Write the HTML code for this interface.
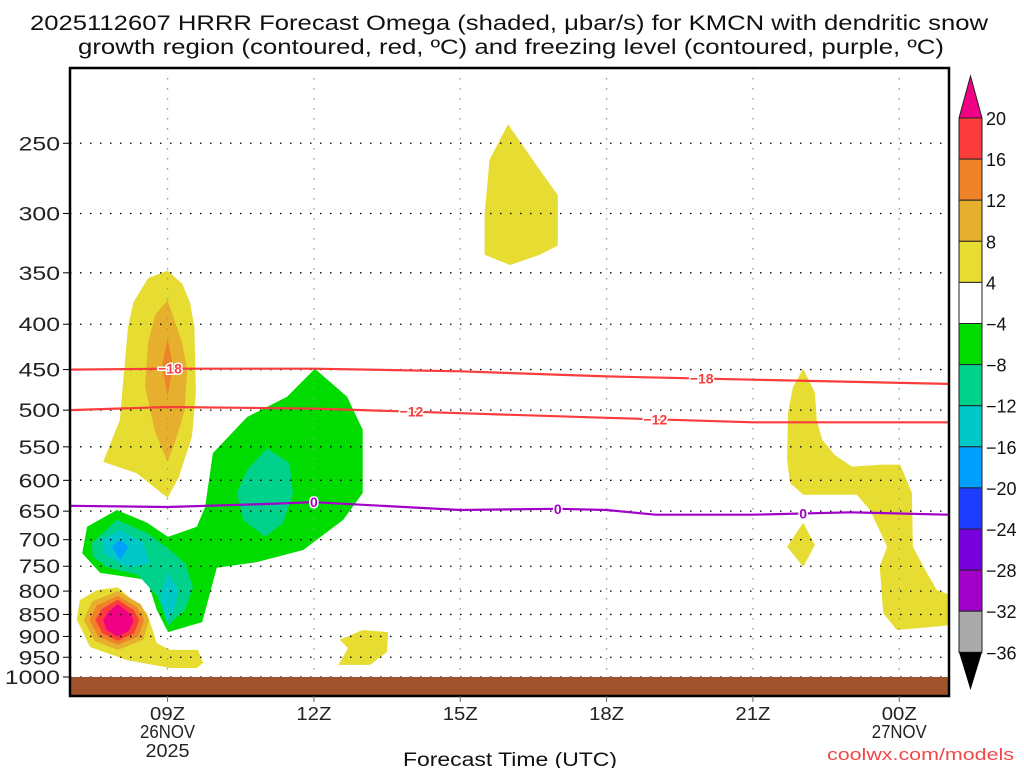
<!DOCTYPE html>
<html><head><meta charset="utf-8"><style>
html,body{margin:0;padding:0;background:#fff;}
svg{display:block;font-family:"Liberation Sans","DejaVu Sans",sans-serif;}
</style></head><body>
<svg id="chart" width="1024" height="768" viewBox="0 0 1024 768">
<text x="30" y="30" font-size="21" textLength="958" lengthAdjust="spacingAndGlyphs" fill="#111">2025112607 HRRR Forecast Omega (shaded, μbar/s) for KMCN with dendritic snow</text>
<text x="78" y="54" font-size="21" textLength="866" lengthAdjust="spacingAndGlyphs" fill="#111">growth region (contoured, red, ºC) and freezing level (contoured, purple, ºC)</text>
<g id="shade"></g>
<g id="grid"></g>
<g id="lines"></g>
<rect x="70" y="677" width="879" height="19" fill="#a0522d"/>
<rect x="70" y="68" width="879" height="628" fill="none" stroke="#000" stroke-width="2.5"/>
<g id="axes"></g>
<g id="cbar"></g>
<text x="403" y="766" font-size="19" textLength="214" lengthAdjust="spacingAndGlyphs" fill="#111">Forecast Time (UTC)</text>
<text x="827" y="760" font-size="17" textLength="187" lengthAdjust="spacingAndGlyphs" fill="#f04848">coolwx.com/models</text>
</svg>
<script>
const NS="http://www.w3.org/2000/svg";
const pTicks=[250,300,350,400,450,500,550,600,650,700,750,800,850,900,950,1000];
const hTicks=[9,12,15,18,21,24];
const hLabels=["09Z","12Z","15Z","18Z","21Z","00Z"];
const hSub=[["26NOV","2025"],[],[],[],[],["27NOV"]];
const cbLevels=["20","16","12","8","4","-4","-8","-12","-16","-20","-24","-28","-32","-36"];
const cbColors=["#fa3c3c","#f08228","#e6af2d","#e6dc32","#ffffff","#00dc00","#00d28c","#00c8c8","#00a0ff","#1e3cff","#7800dc","#a000c8","#aaaaaa"];
const lineHours=[7,9,12,15,18,21,25];
const t18=[450,449,449,452,458,462,467];
const t12=[500,496,498,504,510,516,516];
const fzHours=[7,9,11,12,15,17,18,19,21,23,25];
const fz=[641,643,638,635,648,646,648,656,656,652,656];
const labels18=[[9.05,-18],[19.95,-18]];
const labels12=[[14.0,-12],[19.0,-12]];
const labelsFz=[[12.0,0],[17.0,0],[22.03,0]];
const yellowUpper=[[9.0,348],[9.3,360],[9.46,378],[9.55,403],[9.58,478],[9.5,536],[9.23,595],[9.0,628],[8.37,589],[7.68,572],[8.02,513],[8.19,403],[8.3,378],[8.6,355]];
const goldUpper=[[9.0,376],[9.3,420],[9.4,450],[9.35,500],[9.19,536],[9.0,572],[8.75,530],[8.54,471],[8.6,420],[8.75,390]];
const orangeUpper=[[9.0,415],[9.11,445],[9.0,483],[8.89,445]];
const yellowLow=[[7.98,792],[8.58,847],[8.78,916],[9.05,932],[9.62,932],[9.73,964],[9.6,977],[9.05,977],[8.17,957],[7.41,925],[7.14,862],[7.2,819],[7.55,798]];
const goldLow=[[7.98,800],[8.45,828],[8.62,862],[8.5,908],[7.98,932],[7.5,910],[7.28,862],[7.45,822]];
const orangeLow=[[7.98,810],[8.38,835],[8.52,862],[8.4,900],[7.98,920],[7.58,900],[7.4,862],[7.55,830]];
const redLow=[[7.98,818],[8.3,840],[8.42,862],[8.32,892],[7.98,910],[7.66,892],[7.52,862],[7.65,838]];
const magLow=[[7.98,828],[8.25,850],[8.3,865],[8.2,888],[7.98,900],[7.75,885],[7.68,862],[7.78,845]];
const greenMain=[[12.02,449],[12.68,483],[13.0,526],[13.0,620],[12.6,665],[11.78,719],[10.83,742],[10.01,753],[9.87,804],[9.71,867],[9.01,890],[8.78,840],[8.58,777],[7.62,763],[7.25,725],[7.35,677],[7.96,648],[8.58,670],[9.01,695],[9.6,677],[9.77,643],[9.93,559],[10.63,509],[11.45,483]];
const tealMid=[[11.04,552],[11.5,574],[11.57,620],[11.37,670],[11.0,695],[10.55,665],[10.42,620],[10.63,584]];
const tealLow=[[7.45,706],[7.96,665],[8.58,688],[9.05,719],[9.36,744],[9.52,792],[9.36,840],[9.01,874],[8.8,812],[8.39,767],[7.76,752],[7.47,732]];
const cyanA=[[7.66,700],[8.03,683],[8.5,706],[8.64,744],[8.17,752],[7.68,725]];
const cyanB=[[8.99,763],[9.21,794],[9.15,834],[9.0,867],[8.85,812]];
const blueA=[[8.03,700],[8.2,713],[8.03,738],[7.86,713]];
const yellow13=[[12.53,908],[13.0,885],[13.52,890],[13.5,937],[13.15,969],[12.5,969],[12.7,928]];
const yellow16=[[15.98,238],[16.63,268],[17.0,286],[17.0,326],[16.63,334],[16.02,343],[15.5,334],[15.5,301],[15.6,261]];
const yellowRight=[[22.03,449],[22.27,478],[22.31,513],[22.42,540],[22.68,562],[23.03,579],[23.65,576],[24.02,576],[24.26,620],[24.28,713],[24.49,750],[24.77,798],[25.04,808],[25.04,874],[24.69,878],[23.95,885],[23.67,847],[23.6,750],[23.75,713],[23.4,648],[23.13,623],[22.03,623],[21.76,604],[21.7,569],[21.72,504],[21.82,471]];
const yellowSmall=[[22.03,670],[22.27,710],[22.03,751],[21.7,713]];
const regions=[
 ["#e6dc32",yellowUpper,"yellow-upward-region-9z"],["#e6af2d",goldUpper,"gold-region-9z"],["#f08228",orangeUpper,"orange-region-9z"],
 ["#e6dc32",yellowLow,"yellow-low-region-8z"],["#e6af2d",goldLow,"gold-low-region"],["#f08228",orangeLow,"orange-low-region"],["#fa3c3c",redLow,"red-low-region"],["#f00082",magLow,"magenta-max-region"],
 ["#00dc00",greenMain,"green-downward-region"],["#00d28c",tealMid,"teal-region-11z"],["#00d28c",tealLow,"teal-region-8z"],["#00c8c8",cyanA,"cyan-region-a"],["#00c8c8",cyanB,"cyan-region-b"],["#00a0ff",blueA,"lightblue-region"],
 ["#e6dc32",yellow13,"yellow-region-13z"],["#e6dc32",yellow16,"yellow-region-16z"],["#e6dc32",yellowRight,"yellow-region-23z"],["#e6dc32",yellowSmall,"yellow-small-region-22z"]
];
const X0=70,PXH=48.78,H0=7;
function xs(h){return X0+(h-H0)*PXH;}
function ys(p){return 677+385*Math.log(p/1000);}
function mk(tag,attrs,parent){const e=document.createElementNS(NS,tag);for(const k in attrs)e.setAttribute(k,attrs[k]);parent.appendChild(e);return e;}
const shade=document.getElementById('shade'),grid=document.getElementById('grid'),lines=document.getElementById('lines'),axes=document.getElementById('axes'),cbar=document.getElementById('cbar');
const clipDef=mk('defs',{},document.getElementById('chart'));
const cp=mk('clipPath',{id:'pc'},clipDef);mk('rect',{x:70,y:68,width:879,height:628},cp);
shade.setAttribute('clip-path','url(#pc)');
regions.forEach(r=>{
 const el=mk('polygon',{points:r[1].map(q=>xs(q[0]).toFixed(1)+','+ys(q[1]).toFixed(1)).join(' '),fill:r[0]},shade);
 
 
});
pTicks.forEach(p=>{
 const y=ys(p);
 const l=mk('line',{x1:70,x2:949,y1:y,y2:y,stroke:'#000','stroke-width':1.3,'stroke-dasharray':'1.5 8.5'},grid);
 
 
 const t=mk('line',{x1:63,x2:70,y1:y,y2:y,stroke:'#000','stroke-width':1},axes);
 
 
 const s=String(p);const w=s.length*13.8;
 const tx=mk('text',{x:60-w,y:y+7,'font-size':19,textLength:w,lengthAdjust:'spacingAndGlyphs',fill:'#222'},axes);tx.textContent=s;
 
 
});
hTicks.forEach((h,i)=>{
 const x=xs(h);
 const l=mk('line',{x1:x,x2:x,y1:68,y2:696,stroke:'#999','stroke-width':1.3,'stroke-dasharray':'1.5 8.5'},grid);
 
 
 const t=mk('line',{x1:x,x2:x,y1:696,y2:702,stroke:'#666','stroke-width':1},axes);
 
 
 const tx=mk('text',{x:x-17.5,y:720,'font-size':18,textLength:35,lengthAdjust:'spacingAndGlyphs',fill:'#222'},axes);tx.textContent=hLabels[i];
 
 
 hSub[i].forEach((s,j)=>{
  const w=s.length*11;
  const st=mk('text',{x:x-w/2,y:738+j*19,'font-size':18,textLength:w,lengthAdjust:'spacingAndGlyphs',fill:'#222'},axes);st.textContent=s;
  
  
 });
});
function drawLine(hs,ps,col,name,labs){
 const d=hs.map((h,i)=>(i?'L':'M')+xs(h).toFixed(1)+','+ys(ps[i]).toFixed(1)).join(' ');
 const el=mk('path',{d:d,fill:'none',stroke:col,'stroke-width':2.2},lines);
 
 
 labs.forEach(lb=>{
  let k=0;while(k<hs.length-2&&hs[k+1]<lb[0])k++;
  const f=(lb[0]-hs[k])/(hs[k+1]-hs[k]);const p=ps[k]+(ps[k+1]-ps[k])*f;
  const x=xs(lb[0]),y=ys(p);
  const t=mk('text',{x:x,y:y+5,'font-size':14,'font-weight':'bold','text-anchor':'middle',fill:col,stroke:'#fff','stroke-width':3,'paint-order':'stroke'},lines);
  t.textContent=(lb[1]<0?'\u2212':'')+Math.abs(lb[1]);
  
  
 });
}
drawLine(lineHours,t18,'#fa3c3c','minus18-contour',labels18);
drawLine(lineHours,t12,'#fa3c3c','minus12-contour',labels12);
drawLine(fzHours,fz,'#a000c8','freezing-level-contour',labelsFz);
const CX=959,CW=23,CT=118,BH=41.1;
const tri1=mk('polygon',{points:`${CX},${CT} ${CX+CW},${CT} ${CX+CW/2},76`,fill:'#f00082',stroke:'#222'},cbar);


cbColors.forEach((c,i)=>{
 const r=mk('rect',{x:CX,y:CT+i*BH,width:CW,height:BH,fill:c,stroke:'#222','stroke-width':1},cbar);
 
 
});
const bot=CT+cbColors.length*BH;
const tri2=mk('polygon',{points:`${CX},${bot} ${CX+CW},${bot} ${CX+CW/2},690`,fill:'#000'},cbar);


cbLevels.forEach((s,i)=>{
 const t=mk('text',{x:986,y:CT+i*BH+7,'font-size':18,fill:'#111'},cbar);
 t.textContent=s.replace('-','\u2212');
 
 
});
</script>
</body></html>
